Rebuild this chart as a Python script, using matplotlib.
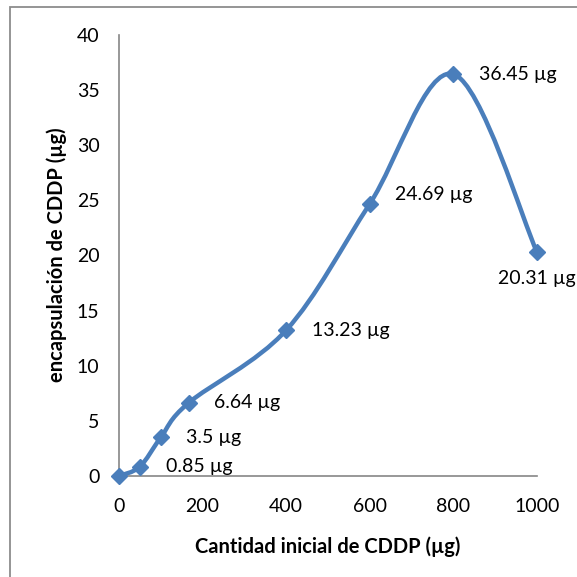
import numpy as np
import matplotlib
matplotlib.use("Agg")
import matplotlib.pyplot as plt
from matplotlib.path import Path
from matplotlib.patches import PathPatch, Rectangle

plt.rcParams['font.family'] = ['Lato', 'DejaVu Sans']

# Initial CDDP amount (µg) and encapsulated CDDP (µg)
cantidad = [0, 50, 100, 166.7, 400, 600, 800, 1000]
encapsulado = [0, 0.85, 3.5, 6.64, 13.23, 24.69, 36.45, 20.31]
etiquetas = ["", "0.85 µg", "3.5 µg", "6.64 µg", "13.23 µg", "24.69 µg", "36.45 µg", "20.31 µg"]
x_ticks = [0, 200, 400, 600, 800, 1000]
y_ticks = [0, 5, 10, 15, 20, 25, 30, 35, 40]

color = '#4A7EBB'
grey = '#868686'
fs = 14

fig = plt.figure(figsize=(5.77, 5.77), dpi=100)
ax = fig.add_axes([119/577, 1 - 476/577, 418/577, 441/577])
ax.set_xlim(0, 1000)
ax.set_ylim(0, 40)
ax.set_xticks(x_ticks)
ax.set_yticks(y_ticks)
ax.tick_params(length=0, labelsize=fs, colors='black')
ax.tick_params(axis='y', pad=14)
ax.tick_params(axis='x', pad=16)
for s in ['top', 'right']:
    ax.spines[s].set_visible(False)
for s in ['left', 'bottom']:
    ax.spines[s].set_color(grey)
    ax.spines[s].set_linewidth(1.2)

# Smoothed curve: Catmull-Rom style cubic Bezier computed in display space
fig.canvas.draw()
pts = ax.transData.transform(np.column_stack([cantidad, encapsulado]))
n = len(pts)
verts = [pts[0]]
codes = [Path.MOVETO]
for i in range(n - 1):
    p0 = pts[i - 1] if i > 0 else pts[i]
    p1 = pts[i]
    p2 = pts[i + 1]
    p3 = pts[i + 2] if i + 2 < n else pts[i + 1]
    c1 = p1 + (p2 - p0) / 6.0
    c2 = p2 - (p3 - p1) / 6.0
    verts += [c1, c2, p2]
    codes += [Path.CURVE4] * 3
data_verts = ax.transData.inverted().transform(np.array(verts))
curve = PathPatch(Path(data_verts, codes), facecolor='none', edgecolor=color,
                  linewidth=3.2, transform=ax.transData, clip_on=False,
                  capstyle='round', joinstyle='round', zorder=3)
ax.add_patch(curve)

ax.plot(cantidad, encapsulado, linestyle='none', marker='D', markersize=8.5,
        color=color, markeredgecolor=color, clip_on=False, zorder=4)

for i, (xi, yi, lab) in enumerate(zip(cantidad, encapsulado, etiquetas)):
    if not lab:
        continue
    if i == len(cantidad) - 1:
        off = (0, -19)
        ha = 'center'
    else:
        off = (18.5, 7 if i == 5 else 0)
        ha = 'left'
    ax.annotate(lab, (xi, yi), xytext=off, textcoords='offset points',
                ha=ha, va='center', fontsize=fs, annotation_clip=False)

ax.set_xlabel('Cantidad inicial de CDDP (µg)', fontsize=14.5, fontweight='bold')
ax.set_ylabel('encapsulación de CDDP (µg)', fontsize=14.5, fontweight='bold')
ax.xaxis.set_label_coords(328 / 577, 1 - 547 / 577, transform=fig.transFigure)
ax.xaxis.label.set_va('center')
ax.yaxis.set_label_coords(57 / 577, 1 - 255 / 577, transform=fig.transFigure)
ax.yaxis.label.set_va('center')

# Chart area frame
fig.patches.append(Rectangle((10/577, -0.2), 1.5, 1.2 - 7/577, transform=fig.transFigure,
                             fill=False, edgecolor='#8C8C8C', linewidth=1.3))

fig.savefig('out.png', dpi=100)
